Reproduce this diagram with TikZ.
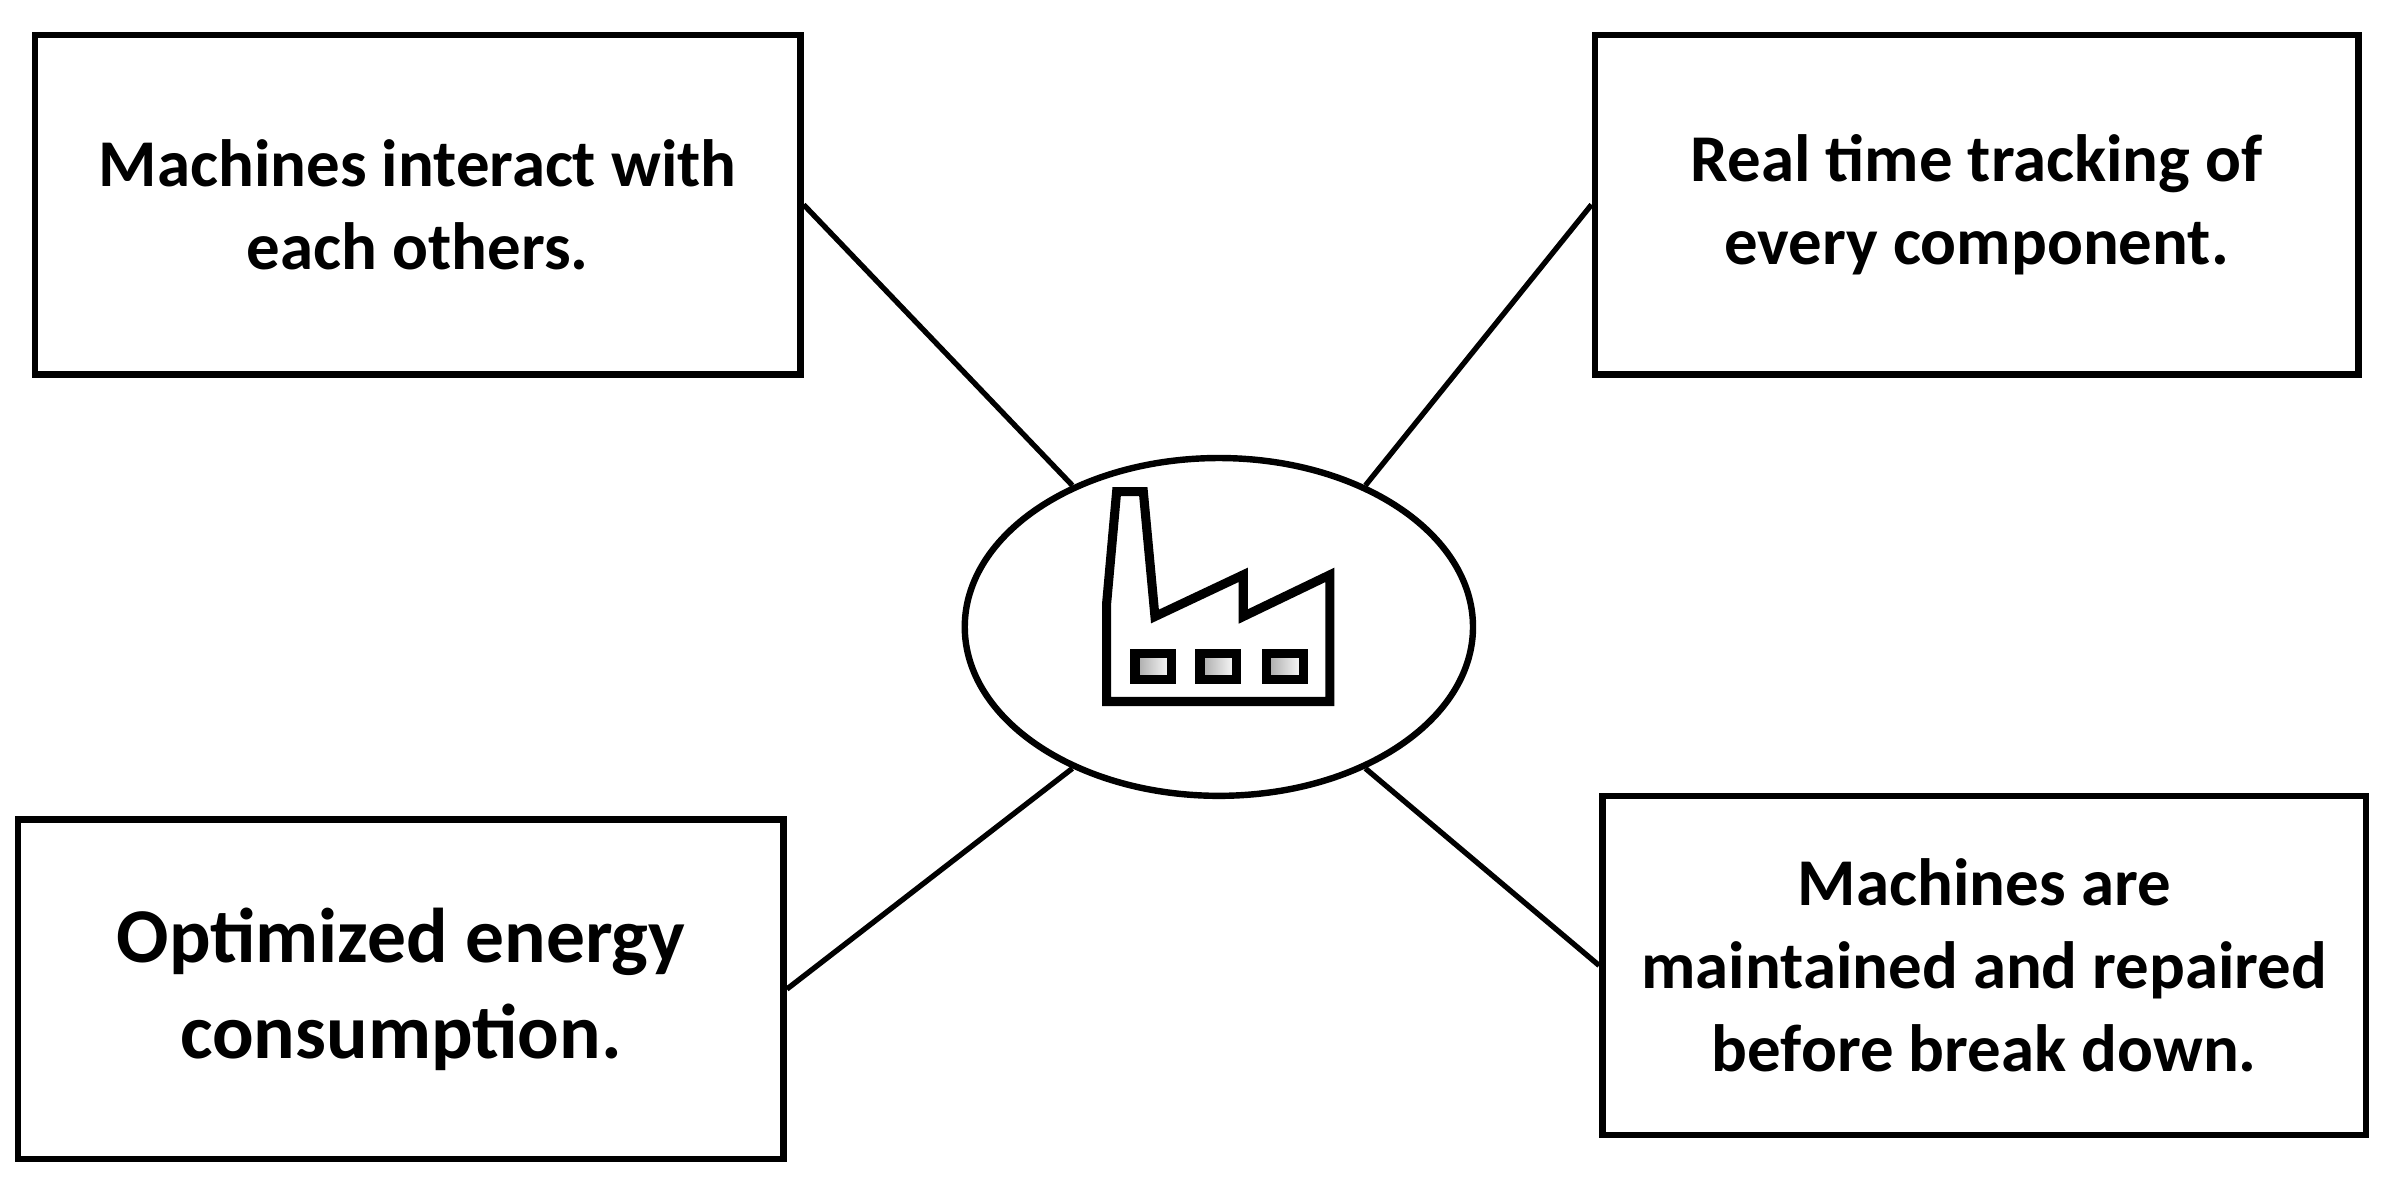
\documentclass[tikz,border=0pt]{standalone}
\usepackage{fontspec}
\setmainfont{Carlito}
\usetikzlibrary{shapes.geometric}
\begin{document}
\begin{tikzpicture}[
  box/.style={draw,line width=1.2pt,minimum width=5.03cm,minimum height=2.23cm,align=center,inner sep=0pt,font=\bfseries\fontsize{12.5}{15.5}\selectfont},
  conn/.style={line width=1pt},
  fac/.style={line width=1.7pt,line join=miter}]
\useasboundingbox (0,0) rectangle (15.68,7.82);
\node[box] (tl) at (2.745,6.475) {Machines interact with\\each others.};
\node[box,minimum width=5.02cm] (tr) at (12.99,6.475) {Real time tracking of\\every component.};
\node[box,font=\bfseries\fontsize{14.5}{18}\selectfont] (bl) at (2.635,1.32) {Optimized energy\\consumption.};
\node[box,minimum width=5.02cm] (br) at (13.04,1.475) {Machines are\\maintained and repaired\\before break down.};
\node[ellipse,draw,line width=1.2pt,minimum width=3.34cm,minimum height=2.22cm,inner sep=0pt] (e) at (8.01,3.70) {};
\draw[conn] (tl.east) -- (e.136);
\draw[conn] (tr.west) -- (e.44);
\draw[conn] (bl.east) -- (e.224);
\draw[conn] (br.west) -- (e.316);
\begin{scope}[shift={(7.163,4.732)},x={(0.0219cm,0cm)},y={(0cm,-0.0219cm)}]
  \fill[gray!45,opacity=0.6] (6.2,70.7) -- (6.2,41.2) -- (9.2,7.7) -- (17.2,7.7) -- (20.7,45.2) -- (47.2,32.7) -- (47.2,45.2) -- (73.2,32.7) -- (73.2,70.7) -- cycle;
  \draw[fac,fill=white] (5,69.5) -- (5,40) -- (8,6.5) -- (16,6.5) -- (19.5,44) -- (46,31.5) -- (46,44) -- (72,31.5) -- (72,69.5) -- cycle;
  \foreach \x in {13.5,33,53}{
    \draw[fac,left color=gray!70,right color=white] (\x,55) rectangle ++(11,8);
  }
\end{scope}
\end{tikzpicture}
\end{document}
